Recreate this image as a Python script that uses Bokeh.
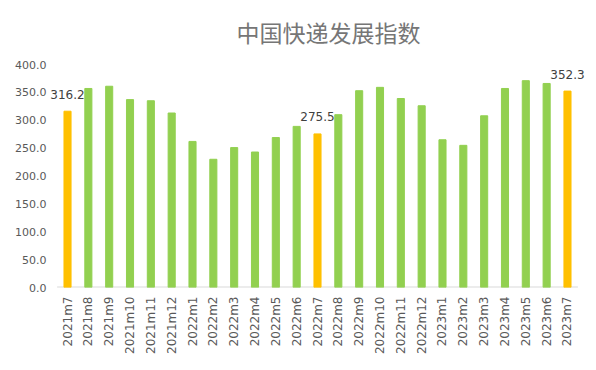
from bokeh.plotting import figure
from bokeh.models import ColumnDataSource, Range1d, FixedTicker, NumeralTickFormatter
from bokeh.transform import dodge
from bokeh.core.properties import value
from bokeh.embed import file_html
from bokeh.resources import INLINE

title_text = "中国快递发展指数"
months = ["2021m7", "2021m8", "2021m9", "2021m10", "2021m11", "2021m12",
          "2022m1", "2022m2", "2022m3", "2022m4", "2022m5", "2022m6",
          "2022m7", "2022m8", "2022m9", "2022m10", "2022m11", "2022m12",
          "2023m1", "2023m2", "2023m3", "2023m4", "2023m5", "2023m6", "2023m7"]
index_values = [316.2, 357, 361, 337, 335, 313,
                262, 230, 251, 243, 269, 289,
                275.5, 310, 353, 359, 339, 326,
                265, 255, 308, 357, 371, 366, 352.3]
highlighted = ["2021m7", "2022m7", "2023m7"]
y_ticks = [0, 50, 100, 150, 200, 250, 300, 350, 400]

GREEN = "#92D050"
ORANGE = "#FFC000"
colors = [ORANGE if m in highlighted else GREEN for m in months]

src = ColumnDataSource(dict(x=months, y=index_values, color=colors))
lab_x = [m for m in months if m in highlighted]
lab_y = [v for m, v in zip(months, index_values) if m in highlighted]
lab_src = ColumnDataSource(dict(x=lab_x, y=lab_y, t=["%.1f" % v for v in lab_y]))
base_src = ColumnDataSource(dict(a=[months[0]], b=[months[-1]], y=[0]))

W, H = 596, 362
LEFT, RIGHT, TOP, BOTTOM = 49, 11, 64, 75
p = figure(x_range=months, width=W, height=H, output_backend="svg",
           toolbar_location=None, title=title_text,
           min_border_left=LEFT, min_border_right=RIGHT, min_border_bottom=BOTTOM, min_border_top=TOP)
p.y_range = Range1d(0, 400)
p.x_range.range_padding = 0.365
p.x_range.range_padding_units = "absolute"

p.title.align = "left"
p.title.offset = 187
p.title.vertical_align = "top"
p.title.standoff = 28
p.title.text_font = "Noto Sans CJK SC"
p.title.text_font_size = "23px"
p.title.text_font_style = "normal"
p.title.text_color = "#767676"

p.segment(x0=dodge("a", -0.5, range=p.x_range), x1=dodge("b", 0.5, range=p.x_range),
          y0="y", y1="y", source=base_src, line_color="#D9D9D9", line_width=2)
p.vbar(x="x", top="y", width=0.34, color="color", source=src)
p.text(x="x", y="y", text="t", source=lab_src, text_align="center", text_baseline="middle",
       y_offset=-17, text_font=value("DejaVu Sans"), text_font_size="12px", text_color="#404040")

p.outline_line_color = None
p.xgrid.grid_line_color = None
p.ygrid.grid_line_color = None

p.yaxis.ticker = FixedTicker(ticks=y_ticks)
p.yaxis.formatter = NumeralTickFormatter(format="0.0")
p.yaxis.axis_line_color = None
p.yaxis.major_tick_line_color = None
p.yaxis.minor_tick_line_color = None
p.yaxis.major_tick_out = 0
p.yaxis.major_tick_in = 0
p.yaxis.major_label_text_font = "DejaVu Sans"
p.yaxis.major_label_text_font_size = "11px"
p.yaxis.major_label_text_color = "#595959"
p.yaxis.major_label_standoff = 3

p.xaxis.axis_line_color = None
p.xaxis.major_tick_line_color = None
p.xaxis.minor_tick_line_color = None
p.xaxis.major_tick_out = 0
p.xaxis.major_tick_in = 0
p.xaxis.major_label_orientation = 1.5707963
p.xaxis.major_label_text_font = "DejaVu Sans"
p.xaxis.major_label_text_font_size = "12px"
p.xaxis.major_label_text_color = "#595959"
p.xaxis.major_label_standoff = 9

p.background_fill_color = "white"
p.border_fill_color = "white"

open("out.html", "w").write(file_html(p, INLINE))
